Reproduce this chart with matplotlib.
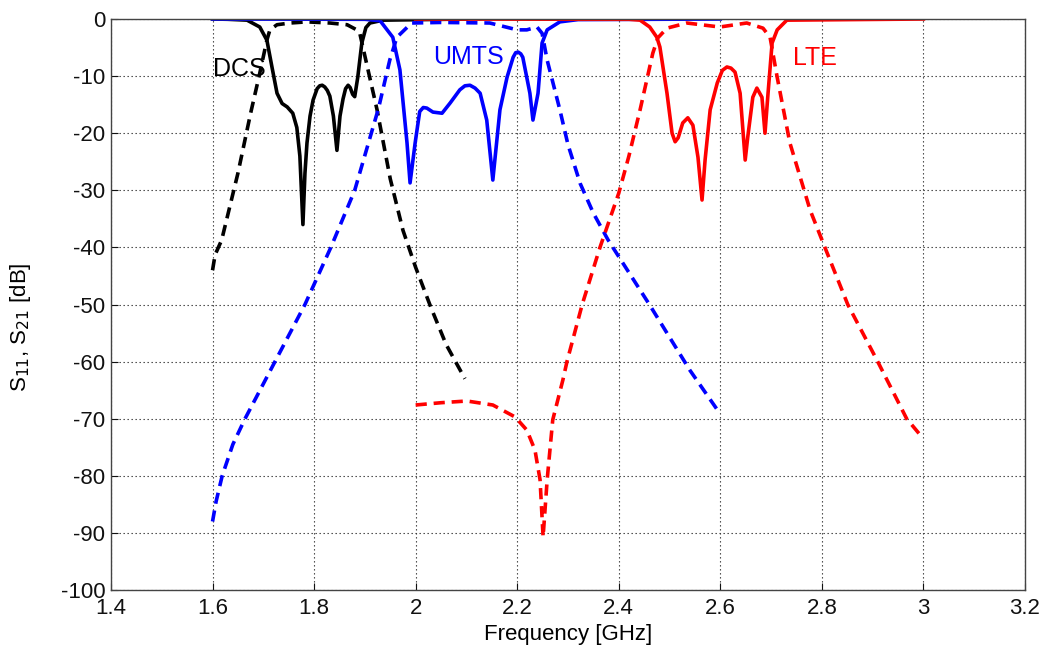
import matplotlib
matplotlib.use("Agg")
import matplotlib.pyplot as plt

plt.rcParams['font.family'] = ['Liberation Sans', 'DejaVu Sans']
plt.rcParams['axes.unicode_minus'] = False

# ---------------- data (GHz, dB) ----------------
dcs_s11_f = [1.60, 1.63, 1.668, 1.693, 1.707, 1.717, 1.727, 1.737, 1.747, 1.758, 1.766, 1.772,
             1.778, 1.782, 1.786, 1.792, 1.798, 1.806, 1.811, 1.816, 1.821, 1.826, 1.831, 1.838,
             1.845, 1.851, 1.857, 1.862, 1.867, 1.871, 1.876, 1.880, 1.886, 1.894, 1.902, 1.910,
             1.936, 2.10]
dcs_s11_db = [0.0, -0.05, -0.2, -1.4, -3.7, -8.4, -13.0, -14.8, -15.4, -16.5, -19.0, -24.0,
              -36.0, -27.0, -21.7, -17.0, -14.2, -12.2, -11.7, -11.6, -11.9, -12.5, -13.5, -17.0,
              -23.0, -17.0, -14.0, -12.2, -11.6, -12.0, -13.2, -13.6, -10.2, -4.2, -1.5, -0.7,
              -0.2, 0.0]

dcs_s21_f = [1.60, 1.605, 1.618, 1.65, 1.675, 1.693, 1.707, 1.713, 1.727, 1.753, 1.786, 1.831,
             1.865, 1.884, 1.890, 1.896, 1.924, 1.95, 1.975, 2.00, 2.03, 2.06, 2.097]
dcs_s21_db = [-44.0, -41.3, -38.7, -27.0, -16.5, -9.5, -3.7, -1.9, -1.0, -0.7, -0.5, -0.7,
              -1.0, -1.9, -2.5, -4.9, -15.9, -28.0, -37.0, -43.5, -50.5, -57.0, -63.0]

umts_s11_f = [1.60, 1.90, 1.93, 1.955, 1.969, 1.983, 1.989, 1.999, 2.008, 2.015, 2.022, 2.034,
              2.052, 2.068, 2.087, 2.097, 2.107, 2.117, 2.127, 2.140, 2.152, 2.166, 2.180,
              2.192, 2.197, 2.202, 2.207, 2.211, 2.225, 2.231, 2.241, 2.249, 2.259, 2.284,
              2.32, 2.60]
umts_s11_db = [0.0, -0.05, -0.3, -3.2, -8.9, -21.7, -28.7, -21.7, -16.2, -15.5, -15.6, -16.3,
               -16.5, -14.7, -12.4, -11.7, -11.6, -12.1, -13.0, -17.7, -28.2, -15.9, -10.2,
               -6.7, -5.9, -5.8, -6.1, -6.7, -13.0, -17.7, -13.0, -4.2, -1.9, -0.5,
               -0.1, 0.0]

umts_s21_f = [1.60, 1.607, 1.619, 1.64, 1.664, 1.723, 1.782, 1.833, 1.880, 1.927, 1.949, 1.963,
              1.992, 2.05, 2.146, 2.200, 2.219, 2.239, 2.249, 2.259, 2.284, 2.30, 2.324, 2.35,
              2.379, 2.461, 2.540, 2.60]
umts_s21_db = [-88.0, -84.5, -80.0, -74.5, -70.0, -60.0, -50.0, -40.0, -30.0, -15.6, -7.2, -3.2,
               -0.7, -0.6, -0.7, -1.9, -1.9, -1.4, -2.5, -7.2, -15.9, -22.0, -28.8, -34.0,
               -38.7, -50.1, -61.5, -69.2]

lte_s11_f = [2.00, 2.42, 2.442, 2.461, 2.475, 2.481, 2.495, 2.505, 2.511, 2.517, 2.526, 2.536,
             2.546, 2.556, 2.564, 2.570, 2.580, 2.594, 2.604, 2.613, 2.621, 2.629, 2.639, 2.649,
             2.654, 2.664, 2.672, 2.682, 2.688, 2.694, 2.702, 2.712, 2.731, 3.00]
lte_s11_db = [0.0, -0.05, -0.2, -1.4, -3.2, -4.9, -13.0, -20.0, -21.5, -20.8, -18.2, -17.3,
              -18.6, -24.2, -31.7, -24.7, -15.9, -11.2, -9.0, -8.4, -8.6, -9.3, -13.0, -24.7,
              -20.7, -13.7, -12.1, -13.7, -20.0, -13.0, -4.2, -1.9, -0.2, 0.0]

lte_s21_f = [2.00, 2.05, 2.101, 2.152, 2.196, 2.219, 2.235, 2.245, 2.251, 2.259, 2.270, 2.290,
             2.298, 2.328, 2.363, 2.40, 2.42, 2.442, 2.467, 2.477, 2.495, 2.534, 2.599, 2.652,
             2.684, 2.698, 2.712, 2.737, 2.777, 2.806, 2.851, 2.910, 2.967, 2.997]
lte_s21_db = [-67.6, -67.2, -66.9, -67.6, -69.7, -72.0, -75.5, -80.7, -90.7, -80.7, -70.2, -63.2,
              -60.0, -50.0, -40.0, -30.5, -24.0, -15.9, -6.0, -3.3, -1.6, -0.7, -1.4, -0.7,
              -1.6, -3.2, -10.2, -21.7, -33.5, -40.0, -50.0, -60.0, -70.0, -73.2]

x_ticks = [1.4, 1.6, 1.8, 2.0, 2.2, 2.4, 2.6, 2.8, 3.0, 3.2]
x_tick_labels = ['1.4', '1.6', '1.8', '2', '2.2', '2.4', '2.6', '2.8', '3', '3.2']
y_ticks = [-100, -90, -80, -70, -60, -50, -40, -30, -20, -10, 0]

band_labels = ['DCS', 'UMTS', 'LTE']
band_label_pos = [(1.601, -9.9), (2.034, -7.8), (2.743, -8.1)]

# ---------------- figure ----------------
fig = plt.figure(figsize=(10.49, 6.51), dpi=100)
ax = fig.add_axes([0.1058, 0.0937, 0.8713, 0.8771])

lw = 2.6
dash = (0, (3.1, 1.9))
blk, blu, red = '#000000', '#0000ff', '#ff0000'

ax.plot(dcs_s11_f, dcs_s11_db, color=blk, lw=lw, solid_joinstyle='round')
ax.plot(dcs_s21_f, dcs_s21_db, color=blk, lw=lw, linestyle=dash)
ax.plot(umts_s11_f, umts_s11_db, color=blu, lw=lw, solid_joinstyle='round')
ax.plot(umts_s21_f, umts_s21_db, color=blu, lw=lw, linestyle=dash)
ax.plot(lte_s11_f, lte_s11_db, color=red, lw=lw, solid_joinstyle='round')
ax.plot(lte_s21_f, lte_s21_db, color=red, lw=lw, linestyle=dash)

colors = [blk, blu, red]
for lab, (px, py), c in zip(band_labels, band_label_pos, colors):
    ax.text(px, py, lab, color=c, fontsize=18, ha='left', va='baseline')

ax.set_xlim(1.4, 3.2)
ax.set_ylim(-100, 0)
ax.set_xticks(x_ticks)
ax.set_xticklabels(x_tick_labels)
ax.set_yticks(y_ticks)
ax.tick_params(direction='in', length=5, labelsize=16, colors='#111111', pad=4)
ax.tick_params(axis='x', pad=6)
for s in ax.spines.values():
    s.set_color('#444444')
    s.set_linewidth(1.0)
ax.grid(True, color='#333333', linestyle=(0, (1.2, 2.4)), linewidth=0.8)
ax.set_axisbelow(True)

ax.set_xlabel('Frequency [GHz]', fontsize=16, labelpad=3)
ax.set_ylabel('S$_{11}$, S$_{21}$ [dB]', fontsize=16)
ax.yaxis.set_label_coords(-0.085, 0.46)

fig.savefig('out.png', dpi=100)
